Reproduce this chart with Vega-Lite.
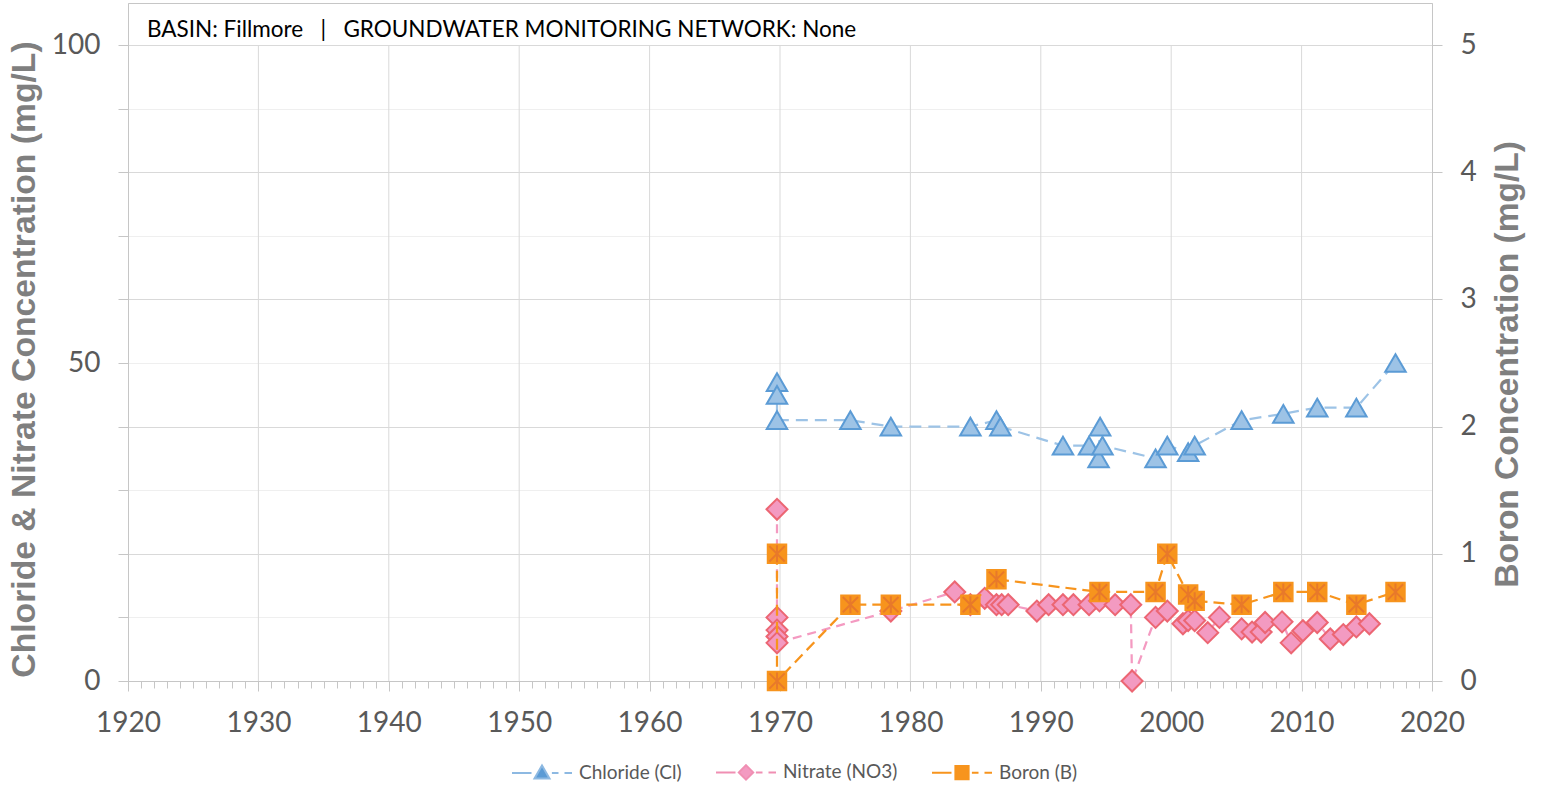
{
  "$schema": "https://vega.github.io/schema/vega-lite/v6.json",
  "width": 1304,
  "height": 678,
  "autosize": {"type": "none"},
  "padding": {"left": 128, "top": 3, "right": 109, "bottom": 104},
  "background": "white",
  "config": {"view": {"stroke": "#c6c6c6", "strokeWidth": 1}, "font": "Lato"},
  "title": {
    "text": "BASIN: Fillmore\u00a0\u00a0 | \u00a0\u00a0GROUNDWATER MONITORING NETWORK: None",
    "anchor": "start", "frame": "group", "orient": "top",
    "offset": -56, "dx": 19, "baseline": "alphabetic",
    "font": "Lato", "fontSize": 22.5, "fontWeight": "normal", "color": "#000000"
  },
  "datasets": {
    "grid": [{"gx": 1930}, {"gx": 1940}, {"gx": 1950}, {"gx": 1960}, {"gx": 1970}, {"gx": 1980}, {"gx": 1990}, {"gx": 2000}, {"gx": 2010}],
    "samples": [
      {"series": "Chloride (Cl)", "year": 1969.77, "value": 47},
      {"series": "Chloride (Cl)", "year": 1969.77, "value": 45},
      {"series": "Chloride (Cl)", "year": 1969.77, "value": 41},
      {"series": "Chloride (Cl)", "year": 1975.4, "value": 41},
      {"series": "Chloride (Cl)", "year": 1978.5, "value": 40},
      {"series": "Chloride (Cl)", "year": 1984.6, "value": 40},
      {"series": "Chloride (Cl)", "year": 1986.6, "value": 41},
      {"series": "Chloride (Cl)", "year": 1986.9, "value": 40},
      {"series": "Chloride (Cl)", "year": 1991.7, "value": 37},
      {"series": "Chloride (Cl)", "year": 1993.7, "value": 37},
      {"series": "Chloride (Cl)", "year": 1994.43, "value": 35},
      {"series": "Chloride (Cl)", "year": 1994.55, "value": 40},
      {"series": "Chloride (Cl)", "year": 1994.73, "value": 37},
      {"series": "Chloride (Cl)", "year": 1998.8, "value": 35},
      {"series": "Chloride (Cl)", "year": 1999.7, "value": 37},
      {"series": "Chloride (Cl)", "year": 2001.3, "value": 36},
      {"series": "Chloride (Cl)", "year": 2001.8, "value": 37},
      {"series": "Chloride (Cl)", "year": 2005.4, "value": 41},
      {"series": "Chloride (Cl)", "year": 2008.6, "value": 42},
      {"series": "Chloride (Cl)", "year": 2011.2, "value": 43},
      {"series": "Chloride (Cl)", "year": 2014.2, "value": 43},
      {"series": "Chloride (Cl)", "year": 2017.2, "value": 50},
      {"series": "Nitrate (NO3)", "year": 1969.77, "value": 27},
      {"series": "Nitrate (NO3)", "year": 1969.77, "value": 10},
      {"series": "Nitrate (NO3)", "year": 1969.77, "value": 8},
      {"series": "Nitrate (NO3)", "year": 1969.77, "value": 7},
      {"series": "Nitrate (NO3)", "year": 1969.77, "value": 6},
      {"series": "Nitrate (NO3)", "year": 1978.5, "value": 11},
      {"series": "Nitrate (NO3)", "year": 1983.4, "value": 14},
      {"series": "Nitrate (NO3)", "year": 1984.6, "value": 12},
      {"series": "Nitrate (NO3)", "year": 1985.7, "value": 13},
      {"series": "Nitrate (NO3)", "year": 1986.6, "value": 12},
      {"series": "Nitrate (NO3)", "year": 1987.0, "value": 12},
      {"series": "Nitrate (NO3)", "year": 1987.5, "value": 12},
      {"series": "Nitrate (NO3)", "year": 1989.7, "value": 11},
      {"series": "Nitrate (NO3)", "year": 1990.6, "value": 12},
      {"series": "Nitrate (NO3)", "year": 1991.7, "value": 12},
      {"series": "Nitrate (NO3)", "year": 1992.5, "value": 12},
      {"series": "Nitrate (NO3)", "year": 1993.7, "value": 12},
      {"series": "Nitrate (NO3)", "year": 1994.5, "value": 12.6},
      {"series": "Nitrate (NO3)", "year": 1995.7, "value": 12},
      {"series": "Nitrate (NO3)", "year": 1996.9, "value": 12},
      {"series": "Nitrate (NO3)", "year": 1997.0, "value": 0},
      {"series": "Nitrate (NO3)", "year": 1998.8, "value": 10},
      {"series": "Nitrate (NO3)", "year": 1999.7, "value": 11},
      {"series": "Nitrate (NO3)", "year": 2000.9, "value": 9},
      {"series": "Nitrate (NO3)", "year": 2001.3, "value": 9.5},
      {"series": "Nitrate (NO3)", "year": 2001.8, "value": 9.5},
      {"series": "Nitrate (NO3)", "year": 2002.8, "value": 7.6},
      {"series": "Nitrate (NO3)", "year": 2003.7, "value": 10},
      {"series": "Nitrate (NO3)", "year": 2005.4, "value": 8.2},
      {"series": "Nitrate (NO3)", "year": 2006.2, "value": 7.7},
      {"series": "Nitrate (NO3)", "year": 2006.9, "value": 7.7},
      {"series": "Nitrate (NO3)", "year": 2007.2, "value": 9.2},
      {"series": "Nitrate (NO3)", "year": 2008.5, "value": 9.3},
      {"series": "Nitrate (NO3)", "year": 2009.2, "value": 6},
      {"series": "Nitrate (NO3)", "year": 2010.1, "value": 7.9},
      {"series": "Nitrate (NO3)", "year": 2011.2, "value": 9.2},
      {"series": "Nitrate (NO3)", "year": 2012.2, "value": 6.6},
      {"series": "Nitrate (NO3)", "year": 2013.2, "value": 7.3},
      {"series": "Nitrate (NO3)", "year": 2014.2, "value": 8.5},
      {"series": "Nitrate (NO3)", "year": 2015.2, "value": 9},
      {"series": "Boron (B)", "year": 1969.77, "value": 1.0},
      {"series": "Boron (B)", "year": 1969.77, "value": 0},
      {"series": "Boron (B)", "year": 1975.4, "value": 0.6},
      {"series": "Boron (B)", "year": 1978.5, "value": 0.6},
      {"series": "Boron (B)", "year": 1984.6, "value": 0.6},
      {"series": "Boron (B)", "year": 1986.6, "value": 0.8},
      {"series": "Boron (B)", "year": 1994.5, "value": 0.7},
      {"series": "Boron (B)", "year": 1998.8, "value": 0.7},
      {"series": "Boron (B)", "year": 1999.7, "value": 1.0},
      {"series": "Boron (B)", "year": 2001.3, "value": 0.68},
      {"series": "Boron (B)", "year": 2001.8, "value": 0.63},
      {"series": "Boron (B)", "year": 2005.4, "value": 0.6},
      {"series": "Boron (B)", "year": 2008.6, "value": 0.7},
      {"series": "Boron (B)", "year": 2011.2, "value": 0.7},
      {"series": "Boron (B)", "year": 2014.2, "value": 0.6},
      {"series": "Boron (B)", "year": 2017.2, "value": 0.7}
    ]
  },
  "layer": [
    {
      "layer": [
        {
          "data": {"name": "grid"},
          "mark": {"type": "rule", "color": "#d9d9d9", "strokeWidth": 1},
          "encoding": {
            "x": {"field": "gx", "type": "quantitative", "title": null,
              "scale": {"domain": [1920, 2020], "nice": false, "zero": false},
              "axis": {"orient": "bottom", "values": [1920, 1930, 1940, 1950, 1960, 1970, 1980, 1990, 2000, 2010, 2020], "format": "d", "labelFlush": false, "labelOverlap": false, "grid": false, "tickSize": 10, "tickColor": "#c6c6c6", "domainColor": "#c6c6c6", "labelFont": "Lato", "labelFontSize": 28, "labelColor": "#595959", "labelPadding": 18, "title": null}},
            "y": {"datum": 0, "type": "quantitative", "title": "Chloride & Nitrate Concentration (mg/L)",
              "scale": {"domain": [0, 106.604], "nice": false, "zero": false},
              "axis": {"orient": "left", "values": [0, 10, 20, 30, 40, 50, 60, 70, 80, 90, 100],
                "labelExpr": "datum.value % 50 === 0 ? datum.label : ''",
                "labelFlush": false, "labelOverlap": false,
                "grid": true,
                "gridColor": {"condition": {"test": "datum.value % 20 === 0", "value": "#d9d9d9"}, "value": "#efefef"},
                "gridWidth": 1,
                "tickSize": 10, "tickColor": "#c6c6c6", "domainColor": "#c6c6c6",
                "labelFont": "Lato", "labelFontSize": 28, "labelColor": "#595959", "labelPadding": 18,
                "titleFont": "Liberation Sans", "titleFontSize": 33.7, "titleFontWeight": "bold", "titleColor": "#7f7f7f",
                "titleAngle": -90, "titleBaseline": "alphabetic", "titleAlign": "center", "titleX": -94, "titleY": 356}},
            "y2": {"datum": 100}
          }
        },
        {
          "data": {"name": "samples"},
          "transform": [{"filter": "datum.series === 'Chloride (Cl)'"}],
          "mark": {"type": "line", "color": "#9DC3E6", "strokeWidth": 2.25, "strokeDash": [12, 7]},
          "encoding": {
            "x": {"field": "year", "type": "quantitative", "title": null, "scale": {"domain": [1920, 2020], "nice": false, "zero": false}},
            "y": {"field": "value", "type": "quantitative", "title": "Chloride & Nitrate Concentration (mg/L)", "scale": {"domain": [0, 106.604], "nice": false, "zero": false}}
          }
        },
        {
          "data": {"name": "samples"},
          "transform": [{"filter": "datum.series === 'Nitrate (NO3)'"}],
          "mark": {"type": "line", "color": "#F49AC1", "strokeWidth": 2.25, "strokeDash": [9, 6]},
          "encoding": {
            "x": {"field": "year", "type": "quantitative", "title": null, "scale": {"domain": [1920, 2020], "nice": false, "zero": false}},
            "y": {"field": "value", "type": "quantitative", "title": "Chloride & Nitrate Concentration (mg/L)", "scale": {"domain": [0, 106.604], "nice": false, "zero": false}}
          }
        },
        {
          "data": {"name": "samples"},
          "transform": [{"filter": "datum.series === 'Chloride (Cl)'"}],
          "mark": {"type": "point", "shape": "triangle-up", "filled": true, "size": 420, "fill": "#9DC3E6", "stroke": "#5B9BD5", "strokeWidth": 2, "opacity": 1},
          "encoding": {
            "x": {"field": "year", "type": "quantitative", "title": null, "scale": {"domain": [1920, 2020], "nice": false, "zero": false}},
            "y": {"field": "value", "type": "quantitative", "title": "Chloride & Nitrate Concentration (mg/L)", "scale": {"domain": [0, 106.604], "nice": false, "zero": false}}
          }
        },
        {
          "data": {"name": "samples"},
          "transform": [{"filter": "datum.series === 'Nitrate (NO3)'"}],
          "mark": {"type": "point", "shape": "diamond", "filled": true, "size": 440, "fill": "#F39AC1", "stroke": "#EC6673", "strokeWidth": 2, "opacity": 1},
          "encoding": {
            "x": {"field": "year", "type": "quantitative", "title": null, "scale": {"domain": [1920, 2020], "nice": false, "zero": false}},
            "y": {"field": "value", "type": "quantitative", "title": "Chloride & Nitrate Concentration (mg/L)", "scale": {"domain": [0, 106.604], "nice": false, "zero": false}}
          }
        },
        {
          "data": {"name": "samples"},
          "transform": [{"filter": "false"}],
          "mark": {"type": "point", "filled": true, "strokeWidth": 2, "opacity": 1},
          "encoding": {
            "x": {"field": "year", "type": "quantitative", "title": null, "scale": {"domain": [1920, 2020], "nice": false, "zero": false}},
            "y": {"field": "value", "type": "quantitative", "title": "Chloride & Nitrate Concentration (mg/L)", "scale": {"domain": [0, 106.604], "nice": false, "zero": false}},
            "fill": {"field": "series", "type": "nominal",
              "scale": {"domain": ["Chloride (Cl)", "Nitrate (NO3)", "Boron (B)"], "range": ["#5B9BD5", "#F39AC1", "#F7941D"]},
              "legend": {"orient": "none", "legendX": 383, "legendY": 738, "direction": "horizontal", "title": null,
                "symbolSize": 3600, "symbolStrokeWidth": 2, "symbolOpacity": 1, "labelFont": "Lato", "labelFontSize": 19, "labelColor": "#595959",
                "labelOffset": 6, "columnPadding": 30, "padding": 0}},
            "stroke": {"field": "series", "type": "nominal",
              "scale": {"domain": ["Chloride (Cl)", "Nitrate (NO3)", "Boron (B)"], "range": ["#8DB9E2", "#F08FB3", "#F7941D"]},
              "legend": {"orient": "none", "legendX": 383, "legendY": 738, "direction": "horizontal", "title": null,
                "symbolSize": 3600, "symbolStrokeWidth": 2, "symbolOpacity": 1, "labelFont": "Lato", "labelFontSize": 19, "labelColor": "#595959",
                "labelOffset": 6, "columnPadding": 30, "padding": 0}},
            "shape": {"field": "series", "type": "nominal",
              "scale": {"domain": ["Chloride (Cl)", "Nitrate (NO3)", "Boron (B)"],
                "range": ["M-1,0H-0.35M0,-0.25L0.25,0.18H-0.25ZM0.33,0H0.55M0.75,0H1",
                          "M-1,0H-0.35M0,-0.24L0.24,0L0,0.24L-0.24,0ZM0.33,0H0.55M0.75,0H1",
                          "M-1,0H-0.35M-0.22,-0.22H0.22V0.22H-0.22ZM0.33,0H0.55M0.75,0H1"]},
              "legend": {"orient": "none", "legendX": 383, "legendY": 738, "direction": "horizontal", "title": null,
                "symbolSize": 3600, "symbolStrokeWidth": 2, "symbolOpacity": 1, "labelFont": "Lato", "labelFontSize": 19, "labelColor": "#595959",
                "labelOffset": 6, "columnPadding": 30, "padding": 0}}
          }
        }
      ]
    },
    {
      "layer": [
        {
          "data": {"name": "samples"},
          "transform": [{"filter": "datum.series === 'Boron (B)'"}],
          "mark": {"type": "line", "color": "#F7941D", "strokeWidth": 2.25, "strokeDash": [11, 6]},
          "encoding": {
            "x": {"field": "year", "type": "quantitative", "title": null, "scale": {"domain": [1920, 2020], "nice": false, "zero": false},
              "axis": {"orient": "bottom", "tickCount": 100, "labels": false, "domain": false, "grid": false, "tickSize": 7, "tickColor": "#c6c6c6", "title": null}},
            "y": {"field": "value", "type": "quantitative", "title": "Boron Concentration (mg/L)",
              "scale": {"domain": [0, 5.3302], "nice": false, "zero": false},
              "axis": {"orient": "right", "values": [0, 1, 2, 3, 4, 5], "format": "d", "labelFlush": false, "labelOverlap": false, "grid": false, "tickSize": 10, "tickColor": "#c6c6c6", "domainColor": "#c6c6c6",
                "labelFont": "Lato", "labelFontSize": 28, "labelColor": "#595959", "labelPadding": 18,
                "titleFont": "Liberation Sans", "titleFontSize": 33.5, "titleFontWeight": "bold", "titleColor": "#7f7f7f",
                "titleAngle": -90, "titleBaseline": "alphabetic", "titleAlign": "center", "titleX": 85, "titleY": 361}}
          }
        },
        {
          "data": {"name": "samples"},
          "transform": [{"filter": "datum.series === 'Boron (B)'"}],
          "mark": {"type": "point", "shape": "square", "filled": true, "size": 360, "fill": "#F7941D", "stroke": "#F7941D", "strokeWidth": 1.5, "opacity": 1},
          "encoding": {
            "x": {"field": "year", "type": "quantitative", "title": null, "scale": {"domain": [1920, 2020], "nice": false, "zero": false}},
            "y": {"field": "value", "type": "quantitative", "title": "Boron Concentration (mg/L)", "scale": {"domain": [0, 5.3302], "nice": false, "zero": false}}
          }
        },
        {
          "data": {"name": "samples"},
          "transform": [{"filter": "datum.series === 'Boron (B)'"}],
          "mark": {"type": "point", "shape": "M-0.85,-0.85L0.85,0.85M-0.85,0.85L0.85,-0.85M0,-0.95L0,0.95", "filled": false, "size": 324, "color": "#E8792A", "strokeWidth": 2, "opacity": 1},
          "encoding": {
            "x": {"field": "year", "type": "quantitative", "title": null, "scale": {"domain": [1920, 2020], "nice": false, "zero": false}},
            "y": {"field": "value", "type": "quantitative", "title": "Boron Concentration (mg/L)", "scale": {"domain": [0, 5.3302], "nice": false, "zero": false}}
          }
        }
      ]
    }
  ],
  "resolve": {"scale": {"y": "independent"}, "axis": {"x": "independent"}}
}
